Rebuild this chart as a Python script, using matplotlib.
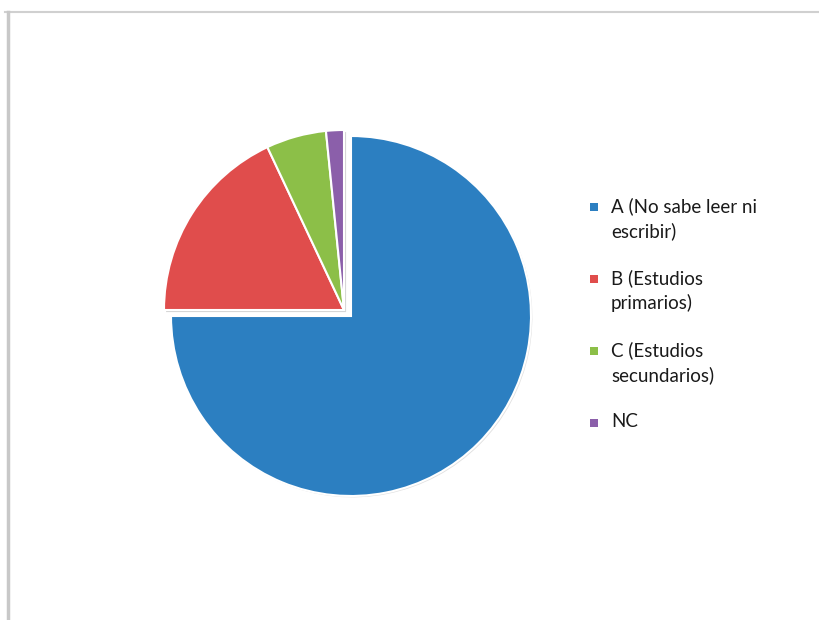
import matplotlib
matplotlib.use("Agg")
import matplotlib.pyplot as plt
from matplotlib.patches import Rectangle
from matplotlib import patheffects as pe

# Data
labels = ["A (No sabe leer ni\nescribir)", "B (Estudios\nprimarios)",
          "C (Estudios\nsecundarios)", "NC"]
values = [75.0, 18.0, 5.4, 1.6]
colors = ["#2C7FC1", "#E04D4C", "#8CBF48", "#8B5FAA"]

W, H = 820, 620
fig = plt.figure(figsize=(W / 100, H / 100), dpi=100)
ax = fig.add_axes([0, 0, 1, 1])

cx, cy, r = 351, H - 316, 180
wedges, _ = ax.pie(values, colors=colors, startangle=90, counterclock=False,
                   center=(cx, cy), radius=r, frame=True,
                   wedgeprops=dict(edgecolor="white", linewidth=1.5))
ax.set_xlim(0, W)
ax.set_ylim(0, H)
ax.set_aspect("equal")
ax.axis("off")

# frame lines (chart area border, top and left only)
ax.plot([5, W], [H - 12, H - 12], color="#d0d0d0", lw=1.5)
ax.plot([8, 8], [0, H - 12], color="#c8c8c8", lw=2.5)

# slices B, C, NC pulled out together
for w in wedges[1:]:
    w.set_center((cx - 7, cy + 6))
    w.set_path_effects([pe.SimplePatchShadow(offset=(1.5, -1.5), shadow_rgbFace="#888888", alpha=0.35),
                        pe.Normal()])
wedges[0].set_path_effects([pe.SimplePatchShadow(offset=(1.0, -1.0), shadow_rgbFace="#888888", alpha=0.25),
                            pe.Normal()])

# legend
lx, ly0, pitch = 611, H - 207, 72
for i, (lab, col) in enumerate(zip(labels, colors)):
    y = ly0 - i * pitch
    ax.add_patch(Rectangle((590, y - 4), 8, 8, facecolor=col, edgecolor="none"))
    ax.text(lx, y + 10, lab, fontsize=13.5, family="Lato", color="#1a1a1a",
            va="top", ha="left", linespacing=1.5)

fig.savefig("out.png", dpi=100, facecolor="white")
